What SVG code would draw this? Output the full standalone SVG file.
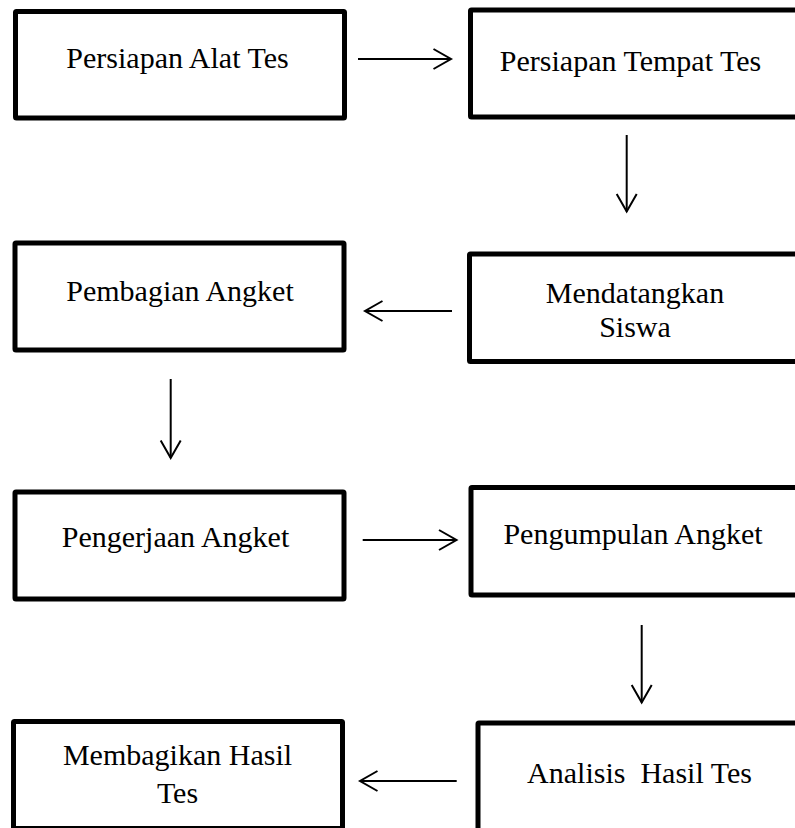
<svg xmlns="http://www.w3.org/2000/svg" width="795" height="828" viewBox="0 0 795 828">
<defs>
<style>
.box{fill:#fff;stroke:#000;stroke-width:5;rx:1}
.lbl{font-family:"Liberation Serif","Times New Roman",serif;font-size:30px;fill:#000;text-anchor:middle;white-space:pre}
.con{stroke:#000;stroke-width:2;fill:none}
</style>
<marker id="arr" markerUnits="userSpaceOnUse" markerWidth="22" markerHeight="24" refX="19" refY="12" orient="auto">
<path d="M1.5,2 L19,12 L1.5,22" fill="none" stroke="#000" stroke-width="2"/>
</marker>
</defs>
<rect width="795" height="828" fill="#fff"/>
<g id="n1"><rect class="box" x="15.5" y="11.5" width="329" height="106.5"/><text class="lbl" x="177.5" y="68">Persiapan Alat Tes</text></g>
<g id="n2"><rect class="box" x="470.5" y="10" width="340" height="107"/><text class="lbl" x="630.5" y="70.5">Persiapan Tempat Tes</text></g>
<g id="n3"><rect class="box" x="15" y="243" width="329" height="107"/><text class="lbl" x="180" y="300.5">Pembagian Angket</text></g>
<g id="n4"><rect class="box" x="469.5" y="254" width="340" height="107.5"/><text class="lbl" x="635" y="303">Mendatangkan</text><text class="lbl" x="635" y="337">Siswa</text></g>
<g id="n5"><rect class="box" x="15" y="492" width="329" height="107"/><text class="lbl" x="175.5" y="546.5">Pengerjaan Angket</text></g>
<g id="n6"><rect class="box" x="471" y="487.5" width="340" height="107.5"/><text class="lbl" x="633" y="543.5">Pengumpulan Angket</text></g>
<g id="n7"><rect class="box" x="478" y="723" width="340" height="120"/><text class="lbl" x="639.5" y="783">Analisis  Hasil Tes</text></g>
<g id="n8"><rect class="box" x="13.5" y="721.5" width="329" height="107"/><text class="lbl" x="177.5" y="765">Membagikan Hasil</text><text class="lbl" x="177.5" y="803">Tes</text></g>
<g id="connectors">
<path class="con" d="M358,59 H451" marker-end="url(#arr)"/>
<path class="con" d="M626.7,135 V211.5" marker-end="url(#arr)"/>
<path class="con" d="M452,311 H365" marker-end="url(#arr)"/>
<path class="con" d="M170.7,379 V458" marker-end="url(#arr)"/>
<path class="con" d="M362.7,540 H456.5" marker-end="url(#arr)"/>
<path class="con" d="M641.7,625 V702.5" marker-end="url(#arr)"/>
<path class="con" d="M456.7,781 H360" marker-end="url(#arr)"/>
</g>
</svg>
